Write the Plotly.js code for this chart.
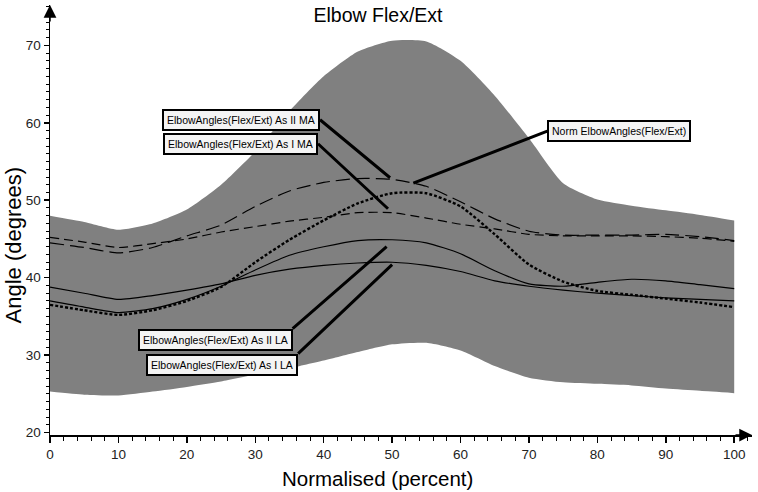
<!DOCTYPE html>
<html>
<head>
<meta charset="utf-8">
<script src="https://cdn.plot.ly/plotly-3.0.1.min.js"></script>
<style>
  html, body { margin: 0; padding: 0; background: #ffffff; }
  #elbowChart { width: 758px; height: 492px; }
</style>
</head>
<body>
<div id="elbowChart"></div>
<script>
// Normalised cycle (percent)
const percent = [0, 5, 10, 15, 20, 25, 30, 35, 40, 45, 50, 55, 60, 65, 70, 75, 80, 85, 90, 95, 100];

// Normal band (degrees)
const bandUpper = [48.0, 47.2, 46.2, 47.0, 48.8, 52.0, 56.3, 61.5, 66.0, 69.2, 70.6, 70.5, 68.0, 63.5, 58.0, 52.2, 50.1, 49.3, 48.7, 48.1, 47.4];
const bandLower = [25.3, 24.9, 24.8, 25.3, 25.9, 26.6, 27.5, 28.3, 29.3, 30.4, 31.4, 31.6, 30.6, 28.6, 27.1, 26.5, 26.3, 26.1, 25.7, 25.4, 25.1];

// Mean curves (degrees)
const normAngle = [36.5, 35.8, 35.2, 35.8, 37.0, 38.8, 42.0, 44.9, 47.4, 49.6, 50.9, 50.9, 49.2, 45.6, 41.7, 39.5, 38.3, 37.8, 37.3, 36.8, 36.2];
const asIIMA = [44.5, 43.9, 43.2, 43.9, 45.4, 46.8, 49.2, 51.2, 52.3, 52.8, 52.7, 51.8, 49.8, 47.6, 46.0, 45.5, 45.5, 45.5, 45.6, 45.3, 44.8];
const asIMA = [45.2, 44.6, 43.9, 44.4, 45.0, 45.9, 46.6, 47.3, 47.8, 48.4, 48.4, 47.7, 46.9, 46.3, 45.6, 45.4, 45.4, 45.4, 45.3, 45.1, 44.7];
const asIILA = [37.0, 36.2, 35.5, 36.0, 37.2, 38.9, 41.0, 42.9, 44.0, 44.8, 44.9, 44.5, 43.1, 40.9, 39.2, 38.9, 39.4, 39.8, 39.6, 39.1, 38.6];
const asILA = [38.8, 38.0, 37.2, 37.7, 38.4, 39.2, 40.3, 41.1, 41.6, 41.9, 42.0, 41.6, 40.8, 39.6, 38.9, 38.4, 38.0, 37.7, 37.4, 37.2, 37.0];

const labelNames = [
    'ElbowAngles(Flex/Ext) As II MA',
    'ElbowAngles(Flex/Ext) As I MA',
    'Norm ElbowAngles(Flex/Ext)',
    'ElbowAngles(Flex/Ext) As II LA',
    'ElbowAngles(Flex/Ext) As I LA'
];

const FONT = 'Liberation Sans, Arial, sans-serif';

function lineTrace(y, dash, width) {
    return {
        x: percent, y: y, type: 'scatter', mode: 'lines', showlegend: false,
        hoverinfo: 'skip',
        line: { color: '#000000', width: width, dash: dash, shape: 'spline', smoothing: 0.6 }
    };
}

const data = [
    {
        x: percent, y: bandLower, type: 'scatter', mode: 'lines', showlegend: false,
        line: { width: 0, shape: 'spline', smoothing: 0.6 }, hoverinfo: 'skip'
    },
    {
        x: percent, y: bandUpper, type: 'scatter', mode: 'lines', showlegend: false,
        fill: 'tonexty', fillcolor: 'rgb(128, 128, 128)',
        line: { width: 0, shape: 'spline', smoothing: 0.6 }, hoverinfo: 'skip'
    },
    lineTrace(asILA, 'solid', 1.2),
    lineTrace(asIILA, 'solid', 1.2),
    lineTrace(asIMA, '9px,5px', 1.2),
    lineTrace(asIIMA, '14px,6px', 1.2),
    lineTrace(normAngle, '3px,2px', 2.4)
];

// label anchors: tip near the curve (data), tail on the box edge (pixel offset)
const labelSpots = [
    { x: 49.7, y: 52.9, ax: -70, ay: -58, xanchor: 'right', yanchor: 'middle' },
    { x: 49.4, y: 48.9, ax: -70, ay: -65, xanchor: 'right', yanchor: 'middle' },
    { x: 53.1, y: 52.2, ax: 134, ay: -52, xanchor: 'left', yanchor: 'middle' },
    { x: 49.2, y: 44.0, ax: -94, ay: 82, xanchor: 'right', yanchor: 'top' },
    { x: 50.0, y: 41.7, ax: -94, ay: 89, xanchor: 'right', yanchor: 'top' }
];

const annotations = labelNames.map((name, i) => ({
    x: labelSpots[i].x, y: labelSpots[i].y, xref: 'x', yref: 'y',
    text: name, showarrow: true, arrowhead: 0, arrowwidth: 3, arrowcolor: '#000000',
    ax: labelSpots[i].ax, ay: labelSpots[i].ay,
    xanchor: labelSpots[i].xanchor, yanchor: labelSpots[i].yanchor,
    bgcolor: '#f4f4f4', bordercolor: '#000000', borderwidth: 2, borderpad: 3,
    font: { family: FONT, size: 10.5, color: '#000000' }
}));

// axis titles
annotations.push({
    x: 0.4665, y: -0.102, xref: 'paper', yref: 'paper', showarrow: false,
    xanchor: 'center', yanchor: 'middle', text: 'Normalised (percent)',
    font: { family: FONT, size: 20.5, color: '#000000' }
});
annotations.push({
    x: -0.052, y: 0.442, xref: 'paper', yref: 'paper', showarrow: false,
    xanchor: 'center', yanchor: 'middle', textangle: -90, text: 'Angle (degrees)',
    font: { family: FONT, size: 22, color: '#000000' }
});

// axis arrow heads
annotations.push({
    x: 0, y: 1, xref: 'paper', yref: 'paper', text: '', showarrow: true,
    arrowhead: 2, arrowsize: 1.7, arrowwidth: 1.5, arrowcolor: '#000000', ax: 0, ay: 18
});
annotations.push({
    x: 1, y: 0, xref: 'paper', yref: 'paper', text: '', showarrow: true,
    arrowhead: 2, arrowsize: 1.7, arrowwidth: 1.5, arrowcolor: '#000000', ax: -18, ay: 0
});

const tickFont = { family: FONT, size: 13.5, color: '#222222' };

const layout = {
    width: 758,
    height: 492,
    margin: { l: 50, r: 6, t: 5, b: 57 },
    paper_bgcolor: '#ffffff',
    plot_bgcolor: '#ffffff',
    title: {
        text: 'Elbow Flex/Ext',
        x: 0.4987, xanchor: 'center', y: 0.9695, yanchor: 'middle',
        font: { family: FONT, size: 19.5, color: '#000000' }
    },
    xaxis: {
        range: [0, 102.6], showgrid: false, zeroline: false,
        showline: true, linecolor: '#000000', linewidth: 1.5,
        tickmode: 'linear', tick0: 0, dtick: 10,
        ticks: 'outside', ticklen: 6, tickwidth: 1.5, tickcolor: '#000000',
        minor: { tickmode: 'linear', tick0: 0, dtick: 2, ticks: 'outside', ticklen: 4, tickcolor: '#000000', tickwidth: 1 },
        tickfont: tickFont
    },
    yaxis: {
        range: [19.7, 75.2], showgrid: false, zeroline: false,
        showline: true, linecolor: '#000000', linewidth: 1.5,
        tickmode: 'linear', tick0: 20, dtick: 10,
        ticks: 'outside', ticklen: 5, tickwidth: 1.5, tickcolor: '#000000',
        minor: { tickmode: 'linear', tick0: 20, dtick: 1, ticks: 'outside', ticklen: 3, tickcolor: '#000000', tickwidth: 1 },
        tickfont: tickFont
    },
    annotations: annotations
};

Plotly.newPlot('elbowChart', data, layout, { displayModeBar: false, staticPlot: true });
</script>
</body>
</html>
